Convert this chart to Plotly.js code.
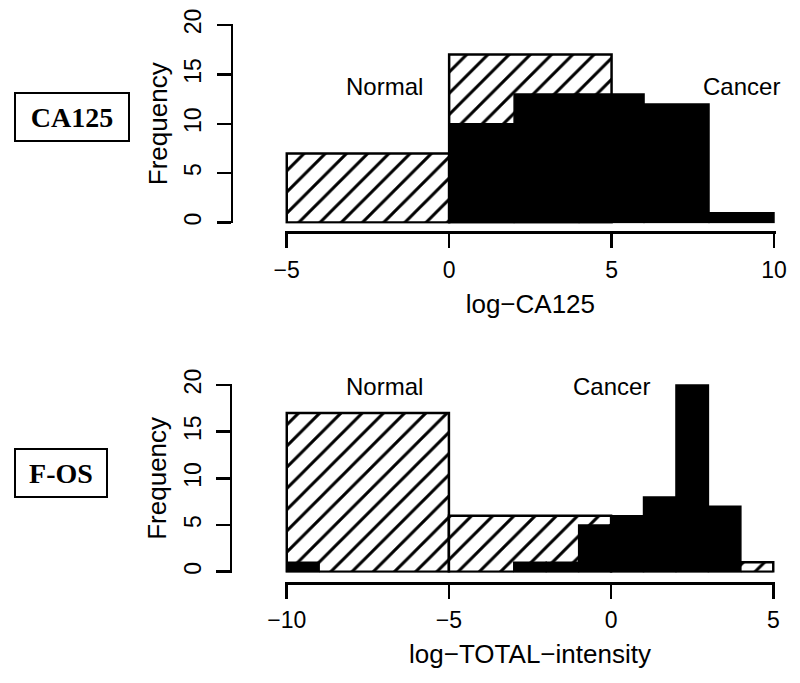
<!DOCTYPE html>
<html>
<head>
<meta charset="utf-8">
<script src="https://cdn.plot.ly/plotly-3.0.1.min.js"></script>
<style>html,body{margin:0;padding:0;background:#fff;}#chart{width:800px;height:683px;}</style>
</head>
<body>
<div id="chart"></div>
<script>
// ---- data ----
const caNormalEdges = [-5, 0, 5];
const caNormalCounts = [7, 17];
const caCancerEdges = [0, 2, 4, 6, 8, 10];
const caCancerCounts = [10, 13, 13, 12, 1];

const fosNormalEdges = [-10, -5, 0, 5];
const fosNormalCounts = [17, 6, 1];
const fosCancerEdges = [-10, -9, -8, -7, -6, -5, -4, -3, -2, -1, 0, 1, 2, 3, 4, 5];
const fosCancerCounts = [1, 0, 0, 0, 0, 0, 0, 1, 1, 5, 6, 8, 20, 7, 0];

const caTicks = [-5, 0, 5, 10];
const fosTicks = [-10, -5, 0, 5];
const freqTicks = [0, 5, 10, 15, 20];

const panelLabels = ['CA125', 'F-OS'];
const xTitles = ['log\u2212CA125', 'log\u2212TOTAL\u2212intensity'];
const groupNames = ['Normal', 'Cancer'];

// ---- helpers ----
function centers(e) { return e.slice(0, -1).map((v, i) => (v + e[i + 1]) / 2); }
function widths(e) { return e.slice(0, -1).map((v, i) => e[i + 1] - v); }

const SANS = 'Liberation Sans, Arial, sans-serif';
const hatch = {shape: '/', fgcolor: '#000', bgcolor: '#fff', size: 15, solidity: 0.2, fillmode: 'replace'};

function normalTrace(edges, counts, xa, ya) {
  return {type: 'bar', x: centers(edges), y: counts, width: widths(edges),
    xaxis: xa, yaxis: ya, name: 'Normal', hoverinfo: 'skip',
    marker: {color: '#fff', pattern: hatch, line: {color: '#000', width: 2.5}}};
}
function cancerTrace(edges, counts, xa, ya) {
  return {type: 'bar', x: centers(edges), y: counts, width: widths(edges),
    xaxis: xa, yaxis: ya, name: 'Cancer', hoverinfo: 'skip',
    marker: {color: '#000', line: {color: '#000', width: 1.5}}};
}

const data = [
  normalTrace(caNormalEdges, caNormalCounts, 'x', 'y'),
  cancerTrace(caCancerEdges, caCancerCounts, 'x', 'y'),
  normalTrace(fosNormalEdges, fosNormalCounts, 'x2', 'y2'),
  cancerTrace(fosCancerEdges, fosCancerCounts, 'x2', 'y2')
];

function xAxis(range, domain, pos, ticks, title) {
  return {range: range, domain: domain, anchor: 'free', position: pos,
    tickmode: 'array', tickvals: ticks, ticks: 'outside', ticklen: 14, tickwidth: 2.5,
    tickcolor: '#000', showline: true, linecolor: '#000', linewidth: 2.5,
    showgrid: false, zeroline: false, ticklabelstandoff: 2,
    tickfont: {family: SANS, size: 23, color: '#000'},
    title: {text: title, font: {family: SANS, size: 26, color: '#000'}, standoff: 12},
    fixedrange: true};
}
function yAxis(range, domain, pos) {
  return {range: range, domain: domain, anchor: 'free', position: pos,
    tickmode: 'array', tickvals: freqTicks, ticks: 'outside', ticklen: 14, tickwidth: 2.5,
    tickcolor: '#000', showline: true, linecolor: '#000', linewidth: 2.5,
    showgrid: false, zeroline: false, tickangle: -90, ticklabelstandoff: 6,
    tickfont: {family: SANS, size: 23, color: '#000'},
    title: {text: 'Frequency', font: {family: SANS, size: 26, color: '#000'}, standoff: 4},
    fixedrange: true};
}

const labelFont = {family: SANS, size: 24, color: '#000'};
const boxFont = {family: 'Liberation Serif, Times New Roman, serif', size: 28, color: '#000'};

const layout = {
  width: 800, height: 683,
  margin: {l: 0, r: 0, t: 0, b: 0},
  paper_bgcolor: '#fff', plot_bgcolor: '#fff',
  showlegend: false, barmode: 'overlay', bargap: 0,
  xaxis: xAxis([-5.05, 10.05], [0.35638, 0.9695], 0.6596, caTicks, xTitles[0]),
  yaxis: yAxis([-0.1, 20.1], [0.67277, 0.96486], 0.2894),
  xaxis2: xAxis([-10.05, 5.05], [0.35638, 0.96863], 0.1464, fosTicks, xTitles[1]),
  yaxis2: yAxis([-0.1, 20.1], [0.16164, 0.43763], 0.2884),
  annotations: [
    {xref: 'x', yref: 'y', x: -2, y: 13.8, text: groupNames[0], showarrow: false, font: labelFont},
    {xref: 'x', yref: 'y', x: 9.0, y: 13.8, text: groupNames[1], showarrow: false, font: labelFont},
    {xref: 'x2', yref: 'y2', x: -7, y: 19.8, text: groupNames[0], showarrow: false, font: labelFont},
    {xref: 'x2', yref: 'y2', x: 0, y: 19.8, text: groupNames[1], showarrow: false, font: labelFont},
    {xref: 'paper', yref: 'paper', x: 72 / 800, y: 1 - 117 / 683, xanchor: 'center', yanchor: 'middle',
     text: '<b>' + panelLabels[0] + '</b>', showarrow: false, width: 112, height: 46, borderpad: 0,
     bordercolor: '#000', borderwidth: 2, font: boxFont},
    {xref: 'paper', yref: 'paper', x: 61 / 800, y: 1 - 473 / 683, xanchor: 'center', yanchor: 'middle',
     text: '<b>' + panelLabels[1] + '</b>', showarrow: false, width: 90, height: 46, borderpad: 0,
     bordercolor: '#000', borderwidth: 2, font: boxFont}
  ]
};

Plotly.newPlot('chart', data, layout, {staticPlot: true, displayModeBar: false});
</script>
</body>
</html>
